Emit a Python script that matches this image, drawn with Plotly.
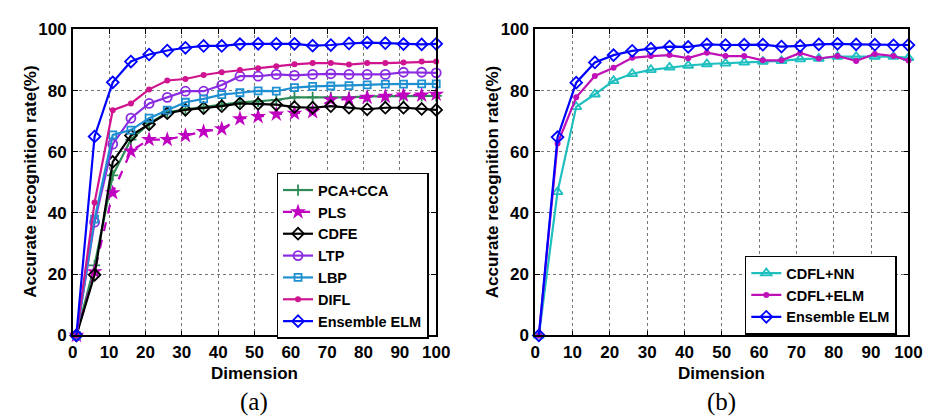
import plotly.graph_objects as go

dims = [1, 6, 11, 16, 21, 26, 31, 36, 41, 46, 51, 56, 61, 66, 71, 76, 81, 86, 91, 96, 100]

# Panel (a)
pca_cca = [0, 22.9, 52.3, 64.0, 69.2, 72.9, 73.9, 74.6, 75.4, 76.2, 76.5, 77.0, 77.8, 77.8, 77.8, 77.8, 78.1, 78.1, 78.2, 78.3, 78.3]
pls = [0, 20.8, 46.6, 60.2, 64.0, 64.0, 65.3, 66.6, 67.5, 70.8, 71.5, 72.3, 72.6, 73.1, 77.0, 77.2, 77.8, 78.1, 78.5, 78.5, 78.8]
cdfe = [0, 19.8, 56.7, 65.3, 69.0, 72.6, 73.7, 74.3, 74.9, 75.8, 75.7, 75.4, 74.6, 74.4, 74.9, 74.4, 73.9, 74.4, 74.4, 74.0, 73.7]
ltp = [0, 37.0, 62.5, 71.0, 75.8, 77.8, 79.8, 79.8, 81.8, 84.7, 84.7, 85.3, 85.0, 85.3, 85.5, 85.3, 85.3, 85.3, 86.0, 86.0, 85.8]
lbp = [0, 38.0, 65.5, 67.1, 71.0, 73.6, 76.2, 77.3, 78.7, 79.3, 79.9, 79.8, 81.0, 81.4, 81.5, 81.6, 81.9, 82.1, 82.1, 82.2, 82.2]
difl = [0, 43.4, 73.6, 75.8, 80.4, 83.3, 83.8, 85.1, 86.0, 86.7, 87.3, 88.0, 88.6, 89.0, 89.0, 88.5, 89.0, 89.0, 89.2, 89.5, 89.5]
ens_a = [0, 65.0, 82.7, 89.5, 91.8, 93.1, 94.0, 94.6, 94.6, 95.2, 95.3, 95.3, 95.3, 94.7, 94.9, 95.4, 95.7, 95.5, 95.2, 95.1, 95.3]

# Panel (b)
cdfl_nn = [0, 46.9, 74.7, 78.8, 83.2, 85.5, 86.8, 87.6, 88.2, 88.7, 88.9, 89.2, 89.5, 89.7, 90.3, 90.5, 91.1, 91.1, 91.1, 91.1, 90.7]
cdfl_elm = [0, 62.7, 77.8, 84.8, 87.5, 90.7, 91.3, 91.6, 90.6, 92.4, 91.3, 91.3, 89.9, 89.9, 92.3, 90.5, 91.3, 89.7, 92.0, 91.3, 89.8]
ens_b = [0, 64.8, 82.6, 89.2, 91.6, 93.0, 93.7, 94.4, 94.3, 95.1, 94.9, 95.0, 95.0, 94.4, 94.6, 95.1, 95.3, 95.1, 95.0, 94.8, 94.9]

xticks = [0, 10, 20, 30, 40, 50, 60, 70, 80, 90, 100]
yticks = [0, 20, 40, 60, 80, 100]

FONT = "Liberation Sans"
fig = go.Figure()

def add(x, y, name, color, symbol, size, xa, ya, legend, dash="solid", mlw=1.8):
    fig.add_trace(go.Scatter(
        x=x, y=y, name=name, mode="lines+markers",
        line=dict(color=color, width=2.2, dash=dash),
        marker=dict(symbol=symbol, size=size, color=color, line=dict(color=color, width=mlw)),
        xaxis=xa, yaxis=ya, legend=legend, cliponaxis=False))

add(dims, pca_cca, "PCA+CCA", "#2e8b57", "cross-thin", 8, "x", "y", "legend")
add(dims, pls, "PLS", "#c000c0", "star", 12, "x", "y", "legend", dash="dash", mlw=0)
add(dims, cdfe, "CDFE", "#000000", "diamond-open", 9, "x", "y", "legend")
add(dims, ltp, "LTP", "#8a2be2", "circle-open", 9, "x", "y", "legend")
add(dims, lbp, "LBP", "#1e8fd0", "square-open", 7, "x", "y", "legend")
add(dims, difl, "DIFL", "#d0148f", "circle", 6, "x", "y", "legend", mlw=0)
add(dims, ens_a, "Ensemble ELM", "#0000ff", "diamond-open", 9, "x", "y", "legend")

add(dims, cdfl_nn, "CDFL+NN", "#1fbfbf", "triangle-up-open", 9, "x2", "y2", "legend2")
add(dims, cdfl_elm, "CDFL+ELM", "#c010b8", "circle", 6, "x2", "y2", "legend2", mlw=0)
add(dims, ens_b, "Ensemble ELM", "#0000ff", "diamond-open", 9, "x2", "y2", "legend2")

W, H = 934, 419
ybot, ytop = (H - 333.5) / H, (H - 13) / H
xd1 = [61 / W, 432 / W]
xd2 = [533 / W, 914 / W]

axis_common = dict(
    showline=True, linecolor="black", linewidth=1.5, mirror="ticks",
    ticks="inside", ticklen=5, tickcolor="black", tickwidth=1,
    showgrid=True, gridcolor="#777777", griddash="dot", gridwidth=1,
    zeroline=False, tickfont=dict(family=FONT, size=17, color="black", weight="bold"),
)

LEG_FONT = dict(family=FONT, size=14.5, color="black", weight="bold")

fig.update_layout(
    width=W, height=H,
    margin=dict(l=0, r=0, t=0, b=0),
    paper_bgcolor="white", plot_bgcolor="white",
    font=dict(family=FONT, color="black"),
    xaxis=dict(domain=xd1, range=[0, 100], tickvals=xticks, anchor="y", ticklabelstandoff=0, **axis_common),
    yaxis=dict(domain=[ybot, ytop], range=[0, 100], tickvals=yticks, anchor="x", ticklabelstandoff=1, **axis_common),
    xaxis2=dict(domain=xd2, range=[0, 100], tickvals=xticks, anchor="y2", ticklabelstandoff=0, **axis_common),
    yaxis2=dict(domain=[ybot, ytop], range=[0, 100], tickvals=yticks, anchor="x2", ticklabelstandoff=1, **axis_common),
    legend=dict(x=269 / W, y=(H - 163) / H, xanchor="left", yanchor="top",
                bordercolor="black", borderwidth=1.5, bgcolor="white",
                font=LEG_FONT, itemwidth=30, tracegroupgap=0),
    legend2=dict(x=747 / W, y=(H - 250) / H, xanchor="left", yanchor="top",
                 bordercolor="black", borderwidth=1.5, bgcolor="white",
                 font=LEG_FONT, itemwidth=30, tracegroupgap=0),
    showlegend=True,
)

ann = []
for cx, ytx, lab in [((61 + 432) / 2, 18, "(a)"), ((533 + 914) / 2, 489, "(b)")]:
    ann.append(dict(x=cx / W, y=(H - 373) / H, xref="paper", yref="paper", text="Dimension",
                    showarrow=False, xanchor="center", yanchor="middle",
                    font=dict(family=FONT, size=17, color="black", weight="bold")))
    ann.append(dict(x=cx / W, y=(H - 403) / H, xref="paper", yref="paper", text=lab,
                    showarrow=False, xanchor="center", yanchor="middle",
                    font=dict(family="Liberation Serif", size=25, color="black")))
    ann.append(dict(x=ytx / W, y=(H - 173) / H, xref="paper", yref="paper",
                    text="Accurate recognition rate(%)", textangle=-90,
                    showarrow=False, xanchor="center", yanchor="middle",
                    font=dict(family=FONT, size=17, color="black", weight="bold")))
fig.update_layout(annotations=ann)

fig.write_html("out.html")
